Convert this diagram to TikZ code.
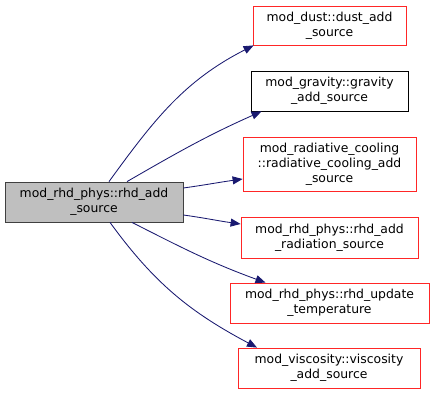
\documentclass[tikz,border=0pt]{standalone}
\usepackage{fontspec}
\setmainfont{DejaVu Sans}
\usetikzlibrary{arrows.meta}

\begin{document}
\begin{tikzpicture}[x=1pt,y=-1pt,
  fn/.style={draw=red!85!white,line width=0.8pt,fill=white,align=center,inner sep=0pt,
    font=\fontsize{12.4}{15}\selectfont},
  fnroot/.style={fn,draw=black!75,fill=black!25},
  fnplain/.style={fn,draw=black},
  call/.style={draw=callblue,line width=0.85pt,-{Triangle[length=10pt,width=8pt]}}]
\definecolor{callblue}{HTML}{191970}
\useasboundingbox (0,0) rectangle (435,395);

% boxes
\node[fnroot,minimum width=178,minimum height=40] (rhd) at (94,202) {mod\_rhd\_phys::rhd\_add\\\_source};
\node[fn,minimum width=153,minimum height=39] (dust) at (329.5,25.5) {mod\_dust::dust\_add\\\_source};
\node[fnplain,minimum width=157,minimum height=40] (grav) at (329.5,91) {mod\_gravity::gravity\\\_add\_source};
\node[fn,minimum width=173,minimum height=54] (cool) at (329.5,164) {mod\_radiative\_cooling\\::radiative\_cooling\_add\\\_source};
\node[fn,minimum width=177,minimum height=41] (rad) at (329.5,237.5) {mod\_rhd\_phys::rhd\_add\\\_radiation\_source};
\node[fn,minimum width=199,minimum height=40] (temp) at (329.5,303) {mod\_rhd\_phys::rhd\_update\\\_temperature};
\node[fn,minimum width=182,minimum height=40] (visc) at (329,368) {mod\_viscosity::viscosity\\\_add\_source};

% calls
\draw[call] ([xshift=15]rhd.north) to[out=54,in=207] ([xshift=1]dust.south west);
\draw[call] ([xshift=33]rhd.north) to[out=30,in=204] ([xshift=-68]grav.south);
\draw[call] ([yshift=14]rhd.east) to[out=8,in=188] ([yshift=-15]cool.west);
\draw[call] ([yshift=-13]rhd.east) to[out=-8,in=172] ([yshift=13.5]rad.west);
\draw[call] ([xshift=38]rhd.south) to[out=-27,in=160] ([xshift=-64]temp.north);
\draw[call] ([xshift=16]rhd.south) to[out=-54,in=152] ([xshift=-72]visc.north);
\end{tikzpicture}
\end{document}
